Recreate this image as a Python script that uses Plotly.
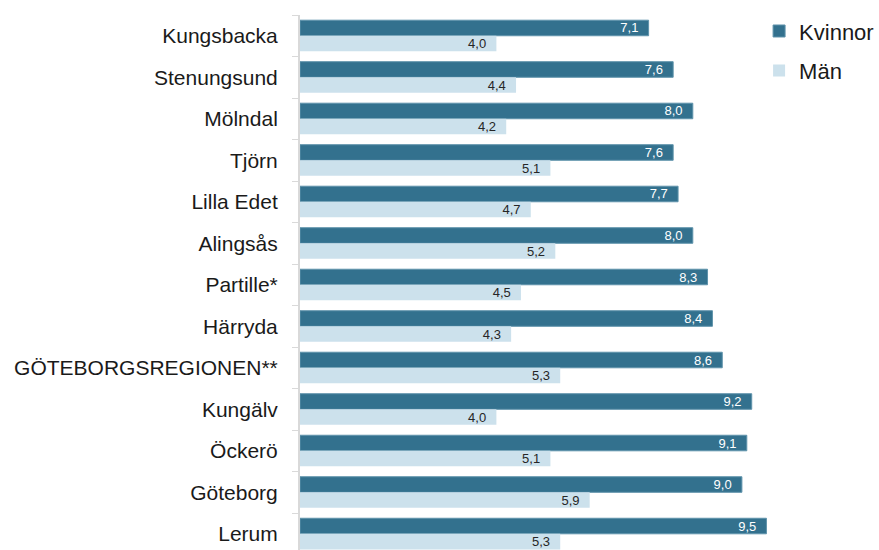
import plotly.graph_objects as go

# Kommuner, uppifrån och ned
kommuner = ["Kungsbacka", "Stenungsund", "Mölndal", "Tjörn", "Lilla Edet", "Alingsås",
            "Partille*", "Härryda", "GÖTEBORGSREGIONEN**", "Kungälv", "Öckerö",
            "Göteborg", "Lerum"]
kvinnor = [7.1, 7.6, 8.0, 7.6, 7.7, 8.0, 8.3, 8.4, 8.6, 9.2, 9.1, 9.0, 9.5]
man = [4.0, 4.4, 4.2, 5.1, 4.7, 5.2, 4.5, 4.3, 5.3, 4.0, 5.1, 5.9, 5.3]

KVINNOR_COLOR = "#33718e"
MAN_COLOR = "#cce1ec"
FONT = "Liberation Sans, Arial, sans-serif"


def labels(values):
    return [f"{v:.1f}".replace(".", ",") + "\u00a0\u00a0" for v in values]


fig = go.Figure()
fig.add_trace(go.Bar(
    y=kommuner, x=kvinnor, name="Kvinnor", orientation="h",
    marker=dict(color=KVINNOR_COLOR, line=dict(color="#5f93ab", width=1)),
    text=labels(kvinnor), textposition="inside", insidetextanchor="end",
    textfont=dict(color="white", size=13, family=FONT),
    legendgroup="k", hoverinfo="x+y",
))
fig.add_trace(go.Bar(
    y=kommuner, x=man, name="Män", orientation="h",
    marker=dict(color=MAN_COLOR, line=dict(width=0)),
    text=labels(man), textposition="inside", insidetextanchor="end",
    textfont=dict(color="#262626", size=13, family=FONT),
    legendgroup="m", hoverinfo="x+y",
))

fig.update_layout(
    width=879, height=550,
    margin=dict(l=300, r=88, t=15, b=0, autoexpand=False),
    paper_bgcolor="white", plot_bgcolor="white",
    barmode="group", bargap=0.25, bargroupgap=0,
    font=dict(family=FONT, color="#1a1a1a"),
    legend=dict(
        x=0.935, y=1.009, xanchor="left", yanchor="top",
        font=dict(size=22, color="#1a1a1a"),
        traceorder="grouped", tracegroupgap=8,
        bgcolor="rgba(0,0,0,0)",
    ),
    uniformtext=dict(minsize=13, mode="show"),
)
fig.update_yaxes(
    type="category", categoryorder="array", categoryarray=kommuner,
    range=[12.39, -0.5], automargin=False,
    showline=True, linecolor="#d9d9d9", linewidth=2,
    ticks="outside", tickson="boundaries", ticklen=6, tickcolor="#d9d9d9",
    tickfont=dict(size=21, color="#1a1a1a"), ticklabelstandoff=16,
    showgrid=False, zeroline=False,
)
fig.update_xaxes(
    range=[0, 10], visible=False, showgrid=False, zeroline=False,
)

# the page body has a default margin; drop it so the figure sits at 0,0
fig.write_html("out.html", config={"displayModeBar": False},
               post_script="document.body.style.margin='0';")
